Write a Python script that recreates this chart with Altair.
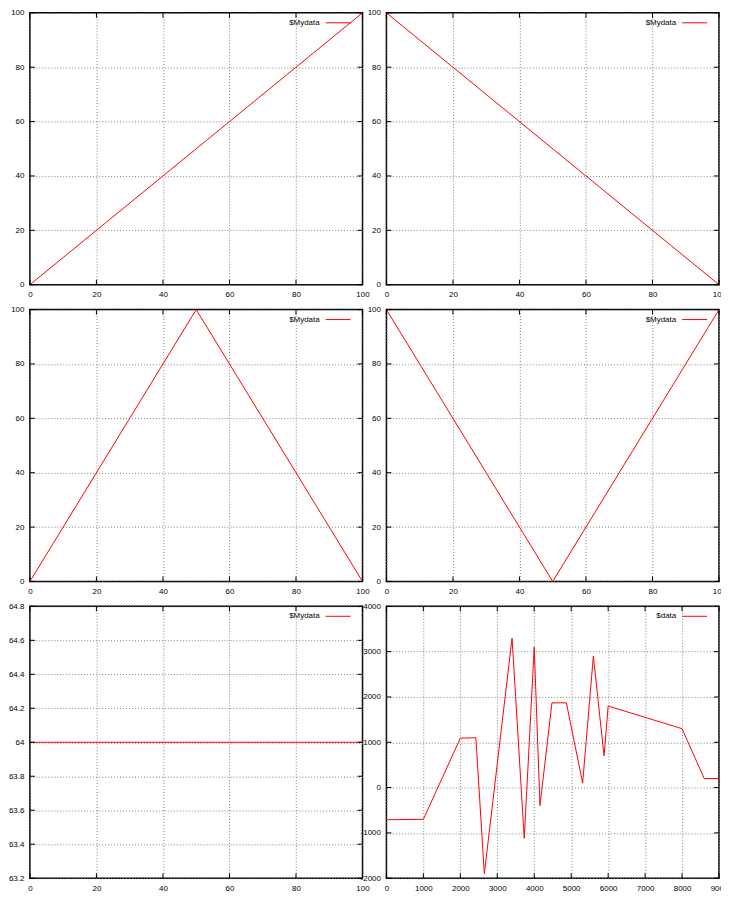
import altair as alt
import pandas as pd

# ---- data ----
x_line = [0, 100]
y_up = [0, 100]
y_down = [100, 0]
x_tri = [0, 50, 100]
y_peak = [0, 100, 0]
y_valley = [100, 0, 100]
y_flat = [64, 64]

data_x = [0, 1000, 2000, 2420, 2650, 3400, 3730, 4000, 4155, 4480, 4870,
          5310, 5600, 5890, 6000, 8000, 8600, 9000]
data_y = [-710, -700, 1090, 1100, -1900, 3300, -1120, 3100, -400, 1870, 1870,
          100, 2900, 700, 1800, 1300, 200, 200]

ticks_0_100 = [0, 20, 40, 60, 80, 100]
ticks_flat = [63.2, 63.4, 63.6, 63.8, 64.0, 64.2, 64.4, 64.6, 64.8]
ticks_data_x = [0, 1000, 2000, 3000, 4000, 5000, 6000, 7000, 8000, 9000]
ticks_data_y = [-2000, -1000, 0, 1000, 2000, 3000, 4000]

W = 334
H = 273
FONT = "Liberation Sans"


def panel(xs, ys, xdom, xticks, ydom, yticks, label):
    df = pd.DataFrame({"x": xs, "y": ys})
    xscale = alt.Scale(domain=xdom, nice=False, zero=False)
    yscale = alt.Scale(domain=ydom, nice=False, zero=False)
    axis_common = dict(
        grid=True, gridColor="#808080", gridDash=[1, 2], gridWidth=1,
        ticks=False, domain=False, labelFont=FONT, labelFontSize=8,
        labelColor="#000000", title=None, labelPadding=6, labelFlush=False,
        labelOverlap=False, labelExpr="'' + datum.value",
    )
    xaxis = alt.Axis(values=xticks, **axis_common)
    yaxis = alt.Axis(values=yticks, **axis_common)
    line = alt.Chart(df).mark_line(color="#ff0000", strokeWidth=1, clip=True).encode(
        x=alt.X("x:Q", scale=xscale, axis=xaxis, title=None),
        y=alt.Y("y:Q", scale=yscale, axis=yaxis, title=None),
    )
    xt = pd.DataFrame({"t": xticks})
    yt = pd.DataFrame({"t": yticks})
    tick_style = dict(color="#000000", strokeWidth=1)
    xb = alt.Chart(xt).mark_rule(**tick_style).encode(
        x=alt.X("t:Q", scale=xscale, axis=xaxis, title=None),
        y=alt.value(H), y2=alt.value(H - 5))
    xtop = alt.Chart(xt).mark_rule(**tick_style).encode(
        x=alt.X("t:Q", scale=xscale, axis=xaxis, title=None),
        y=alt.value(0), y2=alt.value(5))
    yl = alt.Chart(yt).mark_rule(**tick_style).encode(
        y=alt.Y("t:Q", scale=yscale, axis=yaxis, title=None),
        x=alt.value(0), x2=alt.value(5))
    yr = alt.Chart(yt).mark_rule(**tick_style).encode(
        y=alt.Y("t:Q", scale=yscale, axis=yaxis, title=None),
        x=alt.value(W - 5), x2=alt.value(W))
    lg = pd.DataFrame({"label": [label]})
    lg_text = alt.Chart(lg).mark_text(
        align="right", baseline="middle", font=FONT, fontSize=8, color="#000000"
    ).encode(text="label:N", x=alt.value(W - 43), y=alt.value(10))
    lg_line = alt.Chart(lg).mark_rule(color="#ff0000", strokeWidth=1).encode(
        x=alt.value(W - 37), x2=alt.value(W - 12), y=alt.value(10))
    return alt.layer(line, xb, xtop, yl, yr, lg_text, lg_line).properties(
        width=W, height=H)


p1 = panel(x_line, y_up, [0, 100], ticks_0_100, [0, 100], ticks_0_100, "$Mydata")
p2 = panel(x_line, y_down, [0, 100], ticks_0_100, [0, 100], ticks_0_100, "$Mydata")
p3 = panel(x_tri, y_peak, [0, 100], ticks_0_100, [0, 100], ticks_0_100, "$Mydata")
p4 = panel(x_tri, y_valley, [0, 100], ticks_0_100, [0, 100], ticks_0_100, "$Mydata")
p5 = panel(x_line, y_flat, [0, 100], ticks_0_100, [63.2, 64.8], ticks_flat, "$Mydata")
p6 = panel(data_x, data_y, [0, 9000], ticks_data_x, [-2000, 4000], ticks_data_y, "$data")

chart = alt.concat(p1, p2, p3, p4, p5, p6, columns=2,
                   spacing={"row": 25, "column": 24}).properties(
    bounds="flush", padding={"left": -1, "top": -2, "right": -8, "bottom": 0},
    background="#ffffff"
).resolve_scale(x="independent", y="independent").configure_view(
    stroke="#000000", strokeWidth=1.5
)

chart.save("out.html", embed_options={"renderer": "svg", "actions": False})
